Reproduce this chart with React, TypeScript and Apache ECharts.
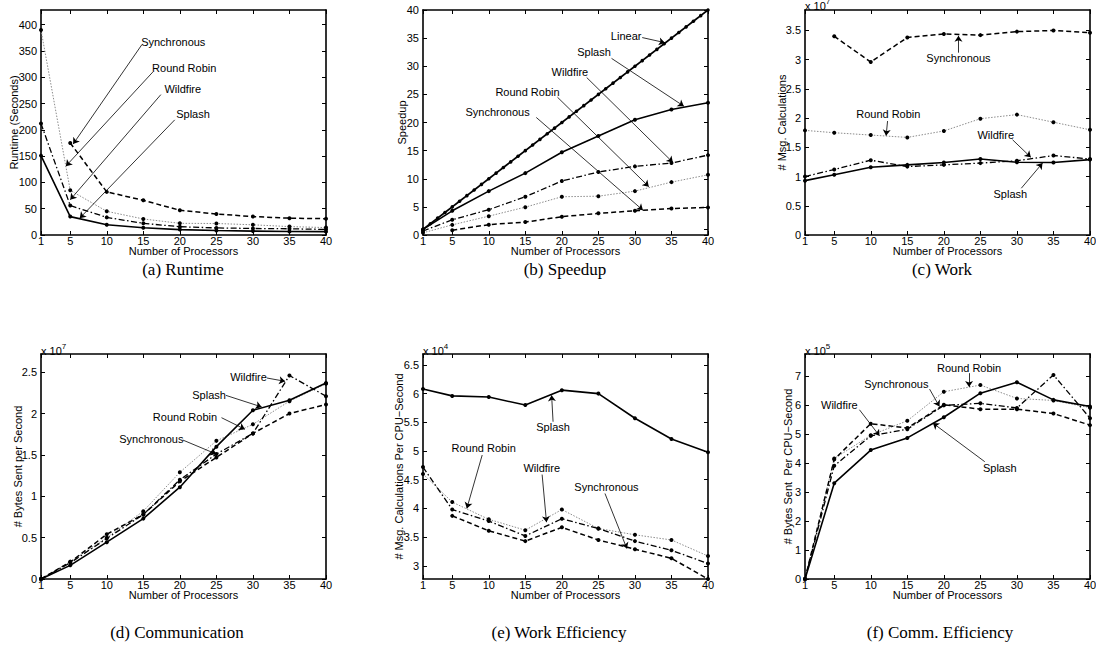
import React, { useEffect, useRef } from "react";
import * as echarts from "echarts";

// ---------------- DATA ----------------
const processors = [1, 5, 10, 15, 20, 25, 30, 35, 40];
const linearProcessors = [1, 2, 3, 4, 5, 6, 7, 8, 9, 10, 11, 12, 13, 14, 15, 16, 17, 18, 19, 20, 21, 22, 23, 24, 25, 26, 27, 28, 29, 30, 31, 32, 33, 34, 35, 36, 37, 38, 39, 40];
const linearSpeedup = [1, 2, 3, 4, 5, 6, 7, 8, 9, 10, 11, 12, 13, 14, 15, 16, 17, 18, 19, 20, 21, 22, 23, 24, 25, 26, 27, 28, 29, 30, 31, 32, 33, 34, 35, 36, 37, 38, 39, 40];

const xTicks = [1, 5, 10, 15, 20, 25, 30, 35, 40];

// (a) Runtime (seconds)
const runtimeSplash = [151, 35, 19.4, 13.7, 10.3, 8.6, 7.4, 6.8, 6.4];
const runtimeWildfire = [212, 56, 33.5, 22.2, 15.7, 13.5, 12.4, 11.8, 10.6];
const runtimeRoundRobin = [390, 85, 45, 30.5, 22.2, 21.9, 19.4, 16, 14.1];
const runtimeSynchronous = [null, 175, 82, 66, 47, 40, 35, 32, 31];
const runtimeTicks = [0, 50, 100, 150, 200, 250, 300, 350, 400];

// (b) Speedup
const speedupSplash = [1, 4.3, 7.8, 11.0, 14.7, 17.6, 20.5, 22.3, 23.5];
const speedupWildfire = [0.71, 2.7, 4.5, 6.8, 9.6, 11.2, 12.2, 12.8, 14.2];
const speedupRoundRobin = [0.39, 1.8, 3.35, 4.95, 6.8, 6.9, 7.8, 9.4, 10.7];
const speedupSynchronous = [null, 0.86, 1.84, 2.3, 3.25, 3.85, 4.3, 4.7, 4.9];
const speedupTicks = [0, 1, 5, 10, 15, 20, 25, 30, 35, 40];

// (c) Work (x 10^7 msg calculations)
const workSplash = [0.93, 1.03, 1.16, 1.2, 1.24, 1.3, 1.245, 1.24, 1.29];
const workWildfire = [1.0, 1.12, 1.28, 1.17, 1.2, 1.23, 1.27, 1.36, 1.3];
const workRoundRobin = [1.79, 1.75, 1.71, 1.67, 1.78, 1.99, 2.06, 1.93, 1.8];
const workSynchronous = [null, 3.4, 2.96, 3.38, 3.44, 3.42, 3.48, 3.5, 3.46];
const workTicks = [0, 0.5, 1, 1.5, 2, 2.5, 3, 3.5];

// (d) Communication (x 10^7 bytes / s)
const commSplash = [0, 0.165, 0.445, 0.73, 1.11, 1.6, 2.04, 2.16, 2.37];
const commWildfire = [0, 0.195, 0.49, 0.78, 1.2, 1.51, 1.76, 2.46, 2.21];
const commRoundRobin = [0, 0.21, 0.5, 0.82, 1.29, 1.67, 1.87, 2.15, 2.36];
const commSynchronous = [0, 0.205, 0.54, 0.78, 1.18, 1.47, 1.76, 2.0, 2.11];
const commTicks = [0, 0.5, 1, 1.5, 2, 2.5];

// (e) Work efficiency (x 10^4 msg calc / CPU-s)
const workEffSplash = [6.08, 5.96, 5.94, 5.8, 6.06, 6.0, 5.57, 5.21, 4.98];
const workEffWildfire = [4.72, 3.98, 3.78, 3.52, 3.82, 3.65, 3.43, 3.27, 3.04];
const workEffRoundRobin = [4.6, 4.11, 3.81, 3.62, 3.98, 3.65, 3.54, 3.45, 3.17];
const workEffSynchronous = [null, 3.87, 3.61, 3.43, 3.67, 3.45, 3.29, 3.13, 2.77];
const workEffTicks = [3, 3.5, 4, 4.5, 5, 5.5, 6, 6.5];

// (f) Comm. efficiency (x 10^5 bytes / CPU-s)
const commEffSplash = [0, 3.3, 4.44, 4.86, 5.57, 6.4, 6.78, 6.17, 5.94];
const commEffWildfire = [0, 3.9, 4.93, 5.16, 5.98, 6.05, 5.89, 7.03, 5.54];
const commEffRoundRobin = [0, 4.15, 4.95, 5.45, 6.45, 6.68, 6.22, 6.15, 5.9];
const commEffSynchronous = [0, 4.12, 5.35, 5.2, 6.0, 5.85, 5.85, 5.7, 5.3];
const commEffTicks = [0, 1, 2, 3, 4, 5, 6, 7];

// Annotations: label centre, arrow start, arrow end (data coordinates)
type Pt = [number, number];
type Anno = { text: string; label: Pt; from: Pt; to: Pt };

const runtimeAnnos: Anno[] = [
  { text: "Synchronous", label: [19.1, 368], from: [14.8, 362], to: [5.4, 173] },
  { text: "Round Robin", label: [20.6, 318], from: [16.3, 310], to: [4.4, 131] },
  { text: "Wildfire", label: [20.4, 278], from: [17.4, 267], to: [5.0, 67] },
  { text: "Splash", label: [21.8, 230], from: [19.3, 219], to: [6.3, 32] },
];
const speedupAnnos: Anno[] = [
  { text: "Linear", label: [28.8, 35.4], from: [31.0, 35.1], to: [34.1, 34.2] },
  { text: "Splash", label: [24.4, 32.6], from: [26.8, 31.4], to: [36.7, 22.9] },
  { text: "Wildfire", label: [21.1, 28.9], from: [23.4, 28.0], to: [35.2, 12.9] },
  { text: "Round Robin", label: [15.3, 25.5], from: [19.4, 24.5], to: [31.9, 8.6] },
  { text: "Synchronous", label: [11.2, 21.8], from: [16.5, 20.9], to: [31.1, 4.4] },
];
const workAnnos: Anno[] = [
  { text: "Synchronous", label: [22.0, 3.03], from: [22.0, 3.12], to: [22.0, 3.41] },
  { text: "Round Robin", label: [12.4, 2.07], from: [12.3, 1.95], to: [12.1, 1.7] },
  { text: "Wildfire", label: [27.1, 1.71], from: [29.4, 1.63], to: [31.9, 1.33] },
  { text: "Splash", label: [29.1, 0.7], from: [30.6, 0.8], to: [33.5, 1.23] },
];
const commAnnos: Anno[] = [
  { text: "Wildfire", label: [29.4, 2.44], from: [31.9, 2.43], to: [34.4, 2.39] },
  { text: "Splash", label: [24.0, 2.225], from: [26.3, 2.22], to: [31.2, 2.08] },
  { text: "Round Robin", label: [20.7, 1.956], from: [25.7, 1.95], to: [28.9, 1.81] },
  { text: "Synchronous", label: [16.1, 1.69], from: [20.4, 1.68], to: [25.0, 1.51] },
];
const workEffAnnos: Anno[] = [
  { text: "Splash", label: [18.8, 5.42], from: [18.8, 5.51], to: [18.6, 5.97] },
  { text: "Round Robin", label: [9.3, 5.06], from: [9.1, 4.93], to: [7.0, 4.0] },
  { text: "Wildfire", label: [17.25, 4.7], from: [17.3, 4.59], to: [17.9, 3.76] },
  { text: "Synchronous", label: [26.1, 4.37], from: [25.9, 4.26], to: [28.9, 3.3] },
];
const commEffAnnos: Anno[] = [
  { text: "Round Robin", label: [23.45, 7.26], from: [23.45, 7.09], to: [23.45, 6.61] },
  { text: "Synchronous", label: [13.5, 6.72], from: [18.05, 6.54], to: [19.4, 5.94] },
  { text: "Wildfire", label: [5.7, 5.98], from: [8.45, 5.83], to: [11.2, 4.93] },
  { text: "Splash", label: [27.65, 3.82], from: [25.6, 4.04], to: [18.5, 5.37] },
];

// ---------------- STYLES / LAYOUT ----------------
const SANS = "'Liberation Sans', Arial, Helvetica, sans-serif";
const SERIF = "'Liberation Serif', 'Times New Roman', serif";

const STYLE: Record<string, any> = {
  splash: { color: "#000", width: 1.6, type: "solid" },
  synchronous: { color: "#000", width: 1.5, type: [5, 3] },
  wildfire: { color: "#000", width: 1.3, type: [6, 2.5, 1.5, 2.5] },
  roundRobin: { color: "#8c8c8c", width: 1, type: [1.5, 1.5] },
  linear: { color: "#000", width: 1.8, type: "solid" },
};

const COL_LEFT = [41, 423, 805];
const ROW_TOP = [10, 354];
const GRID_W = 285;
const GRID_H = 225;

type SeriesSpec = { name: string; x: number[]; y: (number | null)[]; style: string; size?: number };
type Panel = {
  caption: string;
  captionX: number;
  yName: string;
  yNameGap: number;
  yMin: number;
  yMax: number;
  yTicks: number[];
  exponent?: string;
  series: SeriesSpec[];
  annos: Anno[];
};

const panels: Panel[] = [
  {
    caption: "(a) Runtime", captionX: 183, yName: "Runtime (Seconds)", yNameGap: 22,
    yMin: 0, yMax: 428, yTicks: runtimeTicks,
    series: [
      { name: "Round Robin", x: processors, y: runtimeRoundRobin, style: "roundRobin" },
      { name: "Synchronous", x: processors, y: runtimeSynchronous, style: "synchronous" },
      { name: "Wildfire", x: processors, y: runtimeWildfire, style: "wildfire" },
      { name: "Splash", x: processors, y: runtimeSplash, style: "splash" },
    ],
    annos: runtimeAnnos,
  },
  {
    caption: "(b) Speedup", captionX: 565, yName: "Speedup", yNameGap: 15.5,
    yMin: 0, yMax: 40, yTicks: speedupTicks,
    series: [
      { name: "Linear", x: linearProcessors, y: linearSpeedup, style: "linear", size: 3.5 },
      { name: "Round Robin", x: processors, y: speedupRoundRobin, style: "roundRobin" },
      { name: "Synchronous", x: processors, y: speedupSynchronous, style: "synchronous" },
      { name: "Wildfire", x: processors, y: speedupWildfire, style: "wildfire" },
      { name: "Splash", x: processors, y: speedupSplash, style: "splash" },
    ],
    annos: speedupAnnos,
  },
  {
    caption: "(c) Work", captionX: 942, yName: "# Msg. Calculations", yNameGap: 18,
    yMin: 0, yMax: 3.85, yTicks: workTicks, exponent: "7",
    series: [
      { name: "Round Robin", x: processors, y: workRoundRobin, style: "roundRobin" },
      { name: "Synchronous", x: processors, y: workSynchronous, style: "synchronous" },
      { name: "Wildfire", x: processors, y: workWildfire, style: "wildfire" },
      { name: "Splash", x: processors, y: workSplash, style: "splash" },
    ],
    annos: workAnnos,
  },
  {
    caption: "(d) Communication", captionX: 177, yName: "# Bytes Sent per Second", yNameGap: 18,
    yMin: 0, yMax: 2.72, yTicks: commTicks, exponent: "7",
    series: [
      { name: "Round Robin", x: processors, y: commRoundRobin, style: "roundRobin" },
      { name: "Synchronous", x: processors, y: commSynchronous, style: "synchronous" },
      { name: "Wildfire", x: processors, y: commWildfire, style: "wildfire" },
      { name: "Splash", x: processors, y: commSplash, style: "splash" },
    ],
    annos: commAnnos,
  },
  {
    caption: "(e) Work Efficiency", captionX: 559, yName: "# Msg. Calculations Per CPU\u2212Second", yNameGap: 18.5,
    yMin: 2.77, yMax: 6.69, yTicks: workEffTicks, exponent: "4",
    series: [
      { name: "Round Robin", x: processors, y: workEffRoundRobin, style: "roundRobin" },
      { name: "Synchronous", x: processors, y: workEffSynchronous, style: "synchronous" },
      { name: "Wildfire", x: processors, y: workEffWildfire, style: "wildfire" },
      { name: "Splash", x: processors, y: workEffSplash, style: "splash" },
    ],
    annos: workEffAnnos,
  },
  {
    caption: "(f) Comm. Efficiency", captionX: 940, yName: "# Bytes Sent  Per CPU\u2212Second", yNameGap: 11.5,
    yMin: 0, yMax: 7.75, yTicks: commEffTicks, exponent: "5",
    series: [
      { name: "Round Robin", x: processors, y: commEffRoundRobin, style: "roundRobin" },
      { name: "Synchronous", x: processors, y: commEffSynchronous, style: "synchronous" },
      { name: "Wildfire", x: processors, y: commEffWildfire, style: "wildfire" },
      { name: "Splash", x: processors, y: commEffSplash, style: "splash" },
    ],
    annos: commEffAnnos,
  },
];

const CAPTION_Y = [269, 632];
const EXP_Y = [4, 349];

function buildOption() {
  const grid: any[] = [];
  const xAxis: any[] = [];
  const yAxis: any[] = [];
  const series: any[] = [];
  const graphic: any[] = [];

  const axisLine = { show: true, onZero: false, lineStyle: { color: "#000", width: 1.6 } };
  const labelStyle = { color: "#000", fontSize: 11, fontFamily: SANS };

  panels.forEach((p, i) => {
    const col = i % 3;
    const row = Math.floor(i / 3);
    grid.push({
      left: COL_LEFT[col], top: ROW_TOP[row], width: GRID_W, height: GRID_H,
      containLabel: false, outerBoundsMode: "none", show: false,
    });
    // bottom x
    xAxis.push({
      type: "value", gridIndex: i, position: "bottom", min: 1, max: 40,
      axisLine,
      axisTick: { show: true, inside: true, length: 4, customValues: xTicks, lineStyle: { color: "#000", width: 1 } },
      axisLabel: { show: true, customValues: xTicks, margin: 0, hideOverlap: false, showMinLabel: true, showMaxLabel: true, ...labelStyle },
      splitLine: { show: false },
      name: "Number of Processors", nameLocation: "middle", nameGap: 10, nameMoveOverlap: false,
      nameTextStyle: { ...labelStyle },
    });
    // top x (box + ticks)
    xAxis.push({
      type: "value", gridIndex: i, position: "top", min: 1, max: 40,
      axisLine,
      axisTick: { show: true, inside: true, length: 4, customValues: xTicks, lineStyle: { color: "#000", width: 1 } },
      axisLabel: { show: false },
      splitLine: { show: false },
    });
    // left y
    yAxis.push({
      type: "value", gridIndex: i, position: "left", min: p.yMin, max: p.yMax,
      axisLine,
      axisTick: { show: true, inside: true, length: 4, customValues: p.yTicks, lineStyle: { color: "#000", width: 1 } },
      axisLabel: { show: true, customValues: p.yTicks, margin: 4, hideOverlap: false, showMinLabel: true, showMaxLabel: true, ...labelStyle },
      splitLine: { show: false },
      name: p.yName, nameLocation: "middle", nameGap: p.yNameGap, nameMoveOverlap: false,
      nameTextStyle: { ...labelStyle },
    });
    // right y (box + ticks)
    yAxis.push({
      type: "value", gridIndex: i, position: "right", min: p.yMin, max: p.yMax,
      axisLine,
      axisTick: { show: true, inside: true, length: 4, customValues: p.yTicks, lineStyle: { color: "#000", width: 1 } },
      axisLabel: { show: false },
      splitLine: { show: false },
    });

    p.series.forEach((s) => {
      const data: number[][] = [];
      s.x.forEach((xv, j) => {
        const yv = s.y[j];
        if (yv !== null && yv !== undefined) data.push([xv, yv]);
      });
      series.push({
        type: "line", name: s.name, xAxisIndex: 2 * i, yAxisIndex: 2 * i,
        data, symbol: "circle", symbolSize: s.size ?? 4, showAllSymbol: true,
        itemStyle: { color: "#000" },
        lineStyle: { ...STYLE[s.style] },
        silent: true, z: 3,
      });
    });

    series.push({
      type: "lines", coordinateSystem: "cartesian2d", xAxisIndex: 2 * i, yAxisIndex: 2 * i,
      data: p.annos.map((a) => ({ coords: [a.from, a.to] })),
      lineStyle: { color: "#000", width: 0.8, opacity: 1 },
      symbol: ["none", "arrow"], symbolSize: 6, silent: true, z: 4,
    });
    series.push({
      type: "scatter", xAxisIndex: 2 * i, yAxisIndex: 2 * i,
      data: p.annos.map((a) => ({ value: a.label, name: a.text })),
      symbol: "circle", symbolSize: 1, itemStyle: { color: "rgba(0,0,0,0)" },
      label: {
        show: true, position: "inside", formatter: "{b}", ...labelStyle,
        textBorderWidth: 0, textBorderColor: "transparent", opacity: 1,
      },
      silent: true, z: 5,
    });

    if (p.exponent) {
      graphic.push({
        type: "text", x: COL_LEFT[col], y: EXP_Y[row],
        style: {
          text: "{a|x 10}{b|" + p.exponent + "}",
          rich: {
            a: { fontSize: 11, fontFamily: SANS, fill: "#000", lineHeight: 14, verticalAlign: "bottom" },
            b: { fontSize: 8, fontFamily: SANS, fill: "#000", lineHeight: 14, verticalAlign: "top" },
          },
          align: "left", verticalAlign: "middle",
        },
      });
    }
    graphic.push({
      type: "text", x: p.captionX, y: CAPTION_Y[row],
      style: { text: p.caption, fontSize: 17, fontFamily: SERIF, fill: "#000", align: "center", verticalAlign: "middle" },
    });
  });

  return {
    animation: false,
    backgroundColor: "#fff",
    grid, xAxis, yAxis, series, graphic,
  };
}

export default function App() {
  const ref = useRef<HTMLDivElement>(null);
  useEffect(() => {
    if (!ref.current) return;
    const chart = echarts.init(ref.current, null, { renderer: "svg" });
    chart.setOption(buildOption() as any);
    return () => chart.dispose();
  }, []);
  return (
    <div
      ref={ref}
      style={{ position: "fixed", left: 0, top: 0, width: 1096, height: 649, background: "#fff" }}
    />
  );
}
